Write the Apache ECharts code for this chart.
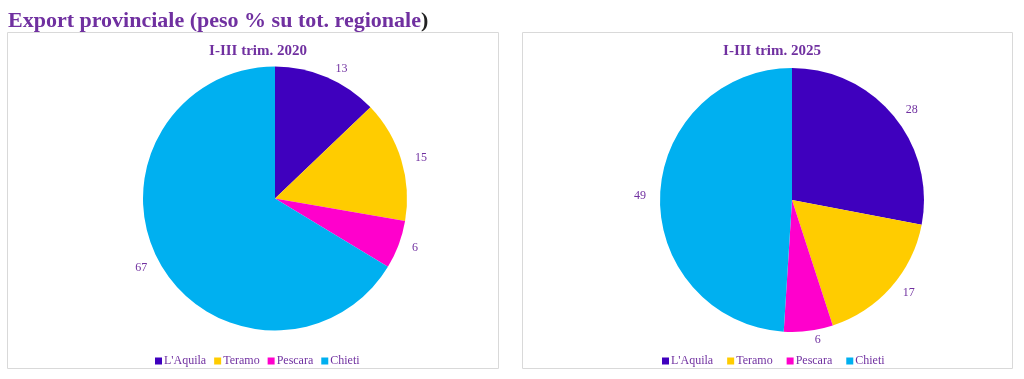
<!DOCTYPE html>
<html>
<head>
<meta charset="utf-8">
<script src="https://cdn.jsdelivr.net/npm/echarts@6/dist/echarts.min.js"></script>
<style>
html,body{margin:0;padding:0;background:#fff;}
#c{width:1024px;height:379px;}
</style>
</head>
<body>
<div id="c"></div>
<script>
const categories = ["L'Aquila", "Teramo", "Pescara", "Chieti"];
const values2020 = [13, 15, 6, 67];
const values2025 = [28, 17, 6, 49];
const panelTitles = ["I-III trim. 2020", "I-III trim. 2025"];
const colors = ["#3F00BE", "#FFCC00", "#FF00CC", "#00B0F0"];

const FONT = "Liberation Serif";
const PURPLE = "#7030A0";

const chart = echarts.init(document.getElementById('c'), null, {renderer: 'canvas'});

function pieSeries(vals, cx, cy) {
  return {
    type: 'pie',
    center: [cx, cy],
    radius: 132,
    startAngle: 90,
    clockwise: true,
    avoidLabelOverlap: false,
    silent: true,
    label: {
      show: true,
      position: 'outside',
      formatter: '{c}',
      color: PURPLE,
      fontFamily: FONT,
      fontSize: 12,
      distanceToLabelLine: 5
    },
    labelLine: {show: false, length: 9, length2: 0},
    itemStyle: {borderWidth: 0},
    data: categories.map((n, i) => ({name: n, value: vals[i], itemStyle: {color: colors[i]}}))
  };
}

const legendCommon = {
  data: categories,
  icon: 'rect',
  itemWidth: 7,
  itemHeight: 7,
  top: 350,
  selectedMode: false,
  textStyle: {color: PURPLE, fontFamily: FONT, fontSize: 12, padding: [0, 0, 0, -3]}
};

chart.setOption({
  animation: false,
  color: colors,
  title: [
    {
      text: '{a|Export provinciale (peso % su tot. regionale}{b|)}',
      left: 3, top: 5,
      textStyle: {
        rich: {
          a: {fontFamily: FONT, fontWeight: 'bold', fontSize: 22, color: PURPLE},
          b: {fontFamily: FONT, fontWeight: 'bold', fontSize: 22, color: '#222'}
        }
      }
    },
    {
      text: panelTitles[0], left: 253, top: 39, textAlign: 'center',
      textStyle: {fontFamily: FONT, fontWeight: 'bold', fontSize: 15, color: PURPLE}
    },
    {
      text: panelTitles[1], left: 767, top: 39, textAlign: 'center',
      textStyle: {fontFamily: FONT, fontWeight: 'bold', fontSize: 15, color: PURPLE}
    }
  ],
  graphic: [
    {type: 'rect', shape: {x: 7.5, y: 32.5, width: 491, height: 336}, style: {fill: null, stroke: '#d9d9d9', lineWidth: 1}, z: -1},
    {type: 'rect', shape: {x: 522.5, y: 32.5, width: 490, height: 336}, style: {fill: null, stroke: '#d9d9d9', lineWidth: 1}, z: -1}
  ],
  legend: [
    Object.assign({}, legendCommon, {left: 150, itemGap: 8}),
    Object.assign({}, legendCommon, {left: 657, itemGap: 14})
  ],
  series: [
    pieSeries(values2020, 275, 198.5),
    pieSeries(values2025, 792, 200)
  ]
});
</script>
</body>
</html>
